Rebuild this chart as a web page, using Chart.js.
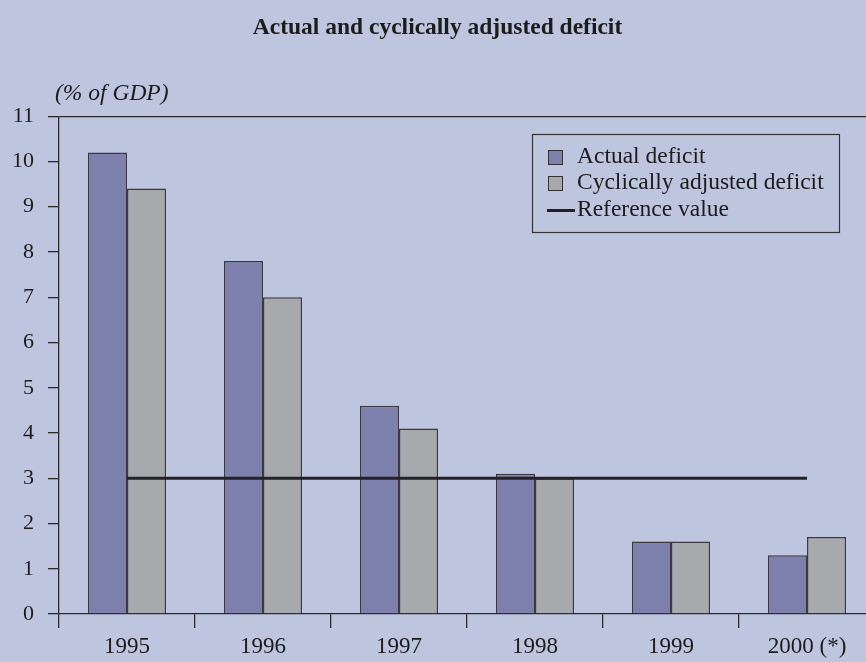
<!DOCTYPE html>
<html>
<head>
<meta charset="utf-8">
<script src="https://cdn.jsdelivr.net/npm/chart.js@4"></script>
<style>
html,body{margin:0;padding:0;overflow:hidden;background:#BEC5DF;}
canvas{display:block;}
</style>
</head>
<body>
<canvas id="c" width="888" height="662"></canvas>
<script>
const categories = ["1995", "1996", "1997", "1998", "1999", "2000 (*)"];
const actualDeficit = [10.2, 7.8, 4.6, 3.1, 1.6, 1.3];
const adjustedDeficit = [9.4, 7.0, 4.1, 3.0, 1.6, 1.7];
const referenceValue = [3, 3, 3, 3, 3, 3];
const yTicks = [0, 1, 2, 3, 4, 5, 6, 7, 8, 9, 10, 11];

const FONT = "'Liberation Serif', 'Times New Roman', serif";
const INK = "#1c1c1c";

const bgPlugin = {
  id: 'bg',
  beforeDraw(chart) {
    const ctx = chart.ctx;
    ctx.save();
    ctx.fillStyle = '#BEC5DF';
    ctx.fillRect(0, 0, chart.width, chart.height);
    ctx.restore();
  }
};

const customLegend = {
  id: 'customLegend',
  afterDraw(chart) {
    const ctx = chart.ctx;
    const ca = chart.chartArea;
    ctx.save();
    // unit label
    ctx.font = "italic 23.5px " + FONT;
    ctx.fillStyle = INK;
    ctx.textBaseline = 'middle';
    ctx.textAlign = 'left';
    ctx.fillText("(% of GDP)", ca.left - 4, ca.top - 22);
    // legend box
    const x0 = 532, y0 = 134, w = 307, h = 98;
    ctx.lineWidth = 1.2;
    ctx.strokeStyle = '#333';
    ctx.strokeRect(x0 + 0.5, y0 + 0.5, w, h);
    const ds = chart.data.datasets;
    const rows = [157, 183, 210];
    ctx.font = "23.5px " + FONT;
    ds.forEach((d, i) => {
      const y = rows[i];
      if (d.type === 'line') {
        ctx.strokeStyle = d.borderColor;
        ctx.lineWidth = 3;
        ctx.beginPath();
        ctx.moveTo(547, y + 0.5);
        ctx.lineTo(575, y + 0.5);
        ctx.stroke();
      } else {
        ctx.fillStyle = d.backgroundColor;
        ctx.fillRect(548, y - 7, 14, 14);
        ctx.strokeStyle = '#333';
        ctx.lineWidth = 1;
        ctx.strokeRect(548.5, y - 6.5, 14, 14);
      }
      ctx.fillStyle = INK;
      ctx.fillText(d.label, 577, y);
    });
    ctx.restore();
  }
};

new Chart(document.getElementById('c'), {
  type: 'bar',
  data: {
    labels: categories,
    datasets: [
      {
        label: 'Actual deficit',
        data: actualDeficit,
        backgroundColor: '#7E80AD',
        borderColor: '#3a3a42',
        borderWidth: 1.5,
        categoryPercentage: 0.574,
        barPercentage: 1.0,
        order: 1
      },
      {
        label: 'Cyclically adjusted deficit',
        data: adjustedDeficit,
        backgroundColor: '#A8A9AC',
        borderColor: '#3a3a42',
        borderWidth: 1.5,
        categoryPercentage: 0.574,
        barPercentage: 1.0,
        order: 1
      },
      {
        type: 'line',
        label: 'Reference value',
        data: referenceValue,
        borderColor: '#222228',
        borderWidth: 3,
        pointRadius: 0,
        fill: false,
        order: 0
      }
    ]
  },
  options: {
    responsive: false,
    animation: false,
    layout: { padding: { top: 0, right: 13, bottom: 0, left: 0 } },
    plugins: {
      legend: { display: false },
      tooltip: { enabled: false },
      title: {
        display: true,
        text: 'Actual and cyclically adjusted deficit',
        color: INK,
        font: { family: FONT, size: 23.5, weight: 'bold' },
        padding: { top: 14, bottom: 74 }
      }
    },
    scales: {
      x: {
        offset: true,
        grid: {
          offset: true,
          drawOnChartArea: false,
          color: '#2a2a2a',
          tickLength: 14,
          lineWidth: 1.3
        },
        border: { display: true, color: '#2a2a2a', width: 1.3 },
        ticks: {
          color: INK,
          font: { family: FONT, size: 23 },
          padding: 5
        },
        afterFit(scale) { scale.height = 48; }
      },
      y: {
        min: 0,
        max: 11,
        afterBuildTicks(scale) { scale.ticks = yTicks.map(v => ({ value: v })); },
        grid: {
          drawOnChartArea: true,
          color: (c) => (c.tick && c.tick.value === 11) ? '#2a2a2a' : 'rgba(0,0,0,0)',
          tickColor: '#2a2a2a',
          tickLength: 11,
          lineWidth: 1.3
        },
        border: { display: true, color: '#2a2a2a', width: 1.3 },
        ticks: {
          color: INK,
          font: { family: FONT, size: 22 },
          padding: 14
        },
        afterFit(scale) { scale.width = 59; }
      }
    }
  },
  plugins: [bgPlugin, customLegend]
});
</script>
</body>
</html>
